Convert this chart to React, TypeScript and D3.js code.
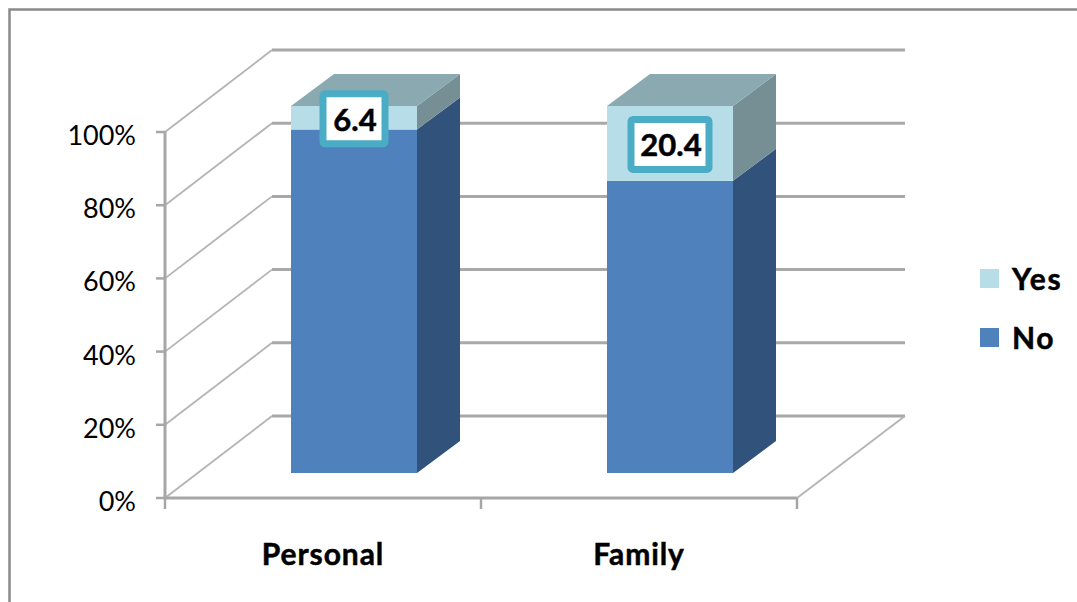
import React from 'react';
import * as d3 from 'd3';

const categories = ['Personal', 'Family'];
const yesValues = [6.4, 20.4];
const noValues = [93.6, 79.6];
const ticks = [0, 20, 40, 60, 80, 100];
const legendItems = ['Yes', 'No'];

const WIDTH = 1077;
const HEIGHT = 602;
const FONT = 'Lato, Carlito, "Open Sans", sans-serif';

// depth of the 3D floor and of the columns
const wallDx = 107;
const wallDy = -82;
const barDx = 43;
const barDy = -32;
const barWidth = 126;
// columns sit mid-way into the floor, so they are shifted right of the band centre
const barShift = 31;

const x = d3.scaleBand<string>().domain(categories).range([165, 797]);
const yFront = d3.scaleLinear().domain([0, 100]).range([498, 132]);
const yBar = d3.scaleLinear().domain([0, 100]).range([473, 106]);

const yesFront = '#b7dde8';
const yesTop = '#8ba9b0';
const yesSide = '#768f95';
const noFront = '#4f81bd';
const noSide = '#31527a';
const gridColor = '#a8a8a8';
const diagColor = '#b4b4b4';
const axisColor = '#a6a6a6';

const path = d3.line();
const boldText = { stroke: '#000', strokeWidth: 0.5 };

function Column({ name, no, yes }: { name: string; no: number; yes: number }) {
  const l = x(name)! + (x.bandwidth() - barWidth) / 2 + barShift;
  const r = l + barWidth;
  const y0 = yBar(0);
  const y1 = yBar(no);
  const y2 = yBar(no + yes);
  const box = (pts: [number, number][], fill: string) => (
    <path d={path(pts) + 'Z'} fill={fill} />
  );
  return (
    <g>
      {box([[r, y0], [r + barDx, y0 + barDy], [r + barDx, y1 + barDy], [r, y1]], noSide)}
      {box([[r, y1], [r + barDx, y1 + barDy], [r + barDx, y2 + barDy], [r, y2]], yesSide)}
      {box([[l, y2], [r, y2], [r + barDx, y2 + barDy], [l + barDx, y2 + barDy]], yesTop)}
      <rect x={l} y={y1} width={barWidth} height={y0 - y1} fill={noFront} />
      <rect x={l} y={y2} width={barWidth} height={y1 - y2} fill={yesFront} />
    </g>
  );
}

function DataLabel({ name, no, yes }: { name: string; no: number; yes: number }) {
  const cx = x(name)! + x.bandwidth() / 2 + barShift;
  const cy = (yBar(no) + yBar(no + yes)) / 2 + 1;
  const w = String(yes).length > 3 ? 78 : 62;
  const h = 50;
  return (
    <g>
      <rect
        x={cx - w / 2}
        y={cy - h / 2}
        width={w}
        height={h}
        rx={2}
        fill="#fff"
        stroke="#4bacc6"
        strokeWidth={7}
      />
      <text x={cx + 1} y={cy + 12} textAnchor="middle" fontSize={31} fontWeight={700} fill="#000" {...boldText}>
        {yes}
      </text>
    </g>
  );
}

export default function App() {
  const left = x.range()[0];
  const right = x.range()[1];
  const cuts = [left, ...categories.map((c) => x(c)! + x.bandwidth())];

  return (
    <svg
      width={WIDTH}
      height={HEIGHT}
      style={{ position: 'absolute', left: 0, top: 0, background: '#fff' }}
      fontFamily={FONT}
    >
      {/* chart frame: only top and left edges are in the crop */}
      <path d={`M9.5,${HEIGHT}V9.5H${WIDTH}`} fill="none" stroke="#8a8a8a" strokeWidth={2.5} />

      {/* back wall grid */}
      {ticks.map((t) => (
        <g key={t} fill="none">
          <path
            d={path([[left, yFront(t)], [left + wallDx, yFront(t) + wallDy]])!}
            stroke={diagColor}
            strokeWidth={1.8}
          />
          <path
            d={path([[left + wallDx, yFront(t) + wallDy], [right + wallDx + 1, yFront(t) + wallDy]])!}
            stroke={gridColor}
            strokeWidth={3}
          />
        </g>
      ))}
      <path
        d={path([[right, yFront(0)], [right + wallDx + 1, yFront(0) + wallDy]])!}
        fill="none"
        stroke={diagColor}
        strokeWidth={1.8}
      />

      {/* front axes */}
      <path d={path([[left, yFront(100)], [left, yFront(0)], [right, yFront(0)]])!} fill="none" stroke={axisColor} strokeWidth={3} />
      {ticks.map((t) => (
        <line key={t} x1={left - 9} x2={left} y1={yFront(t)} y2={yFront(t)} stroke={axisColor} strokeWidth={2.5} />
      ))}
      {cuts.map((c) => (
        <line key={c} x1={c} x2={c} y1={yFront(0)} y2={yFront(0) + 11} stroke={axisColor} strokeWidth={2.5} />
      ))}
      {ticks.map((t) => (
        <text key={t} x={136} y={yFront(t) + 13} textAnchor="end" fontSize={27} fill="#000">
          {t}%
        </text>
      ))}

      {categories.map((c, i) => (
        <Column key={c} name={c} no={noValues[i]} yes={yesValues[i]} />
      ))}
      {categories.map((c, i) => (
        <DataLabel key={c} name={c} no={noValues[i]} yes={yesValues[i]} />
      ))}

      {categories.map((c) => (
        <text
          key={c}
          x={x(c)! + x.bandwidth() / 2}
          y={565}
          textAnchor="middle"
          fontSize={30}
          fontWeight={700}
          letterSpacing={0.9}
          fill="#000"
          {...boldText}
        >
          {c}
        </text>
      ))}

      {/* legend */}
      {legendItems.map((item, i) => (
        <g key={item} transform={`translate(980,${269 + i * 59})`}>
          <rect width={19} height={19} fill={i === 0 ? yesFront : noFront} />
          <text x={32} y={21} fontSize={30} fontWeight={700} fill="#000" letterSpacing={1.7} {...boldText}>
            {item}
          </text>
        </g>
      ))}
    </svg>
  );
}
